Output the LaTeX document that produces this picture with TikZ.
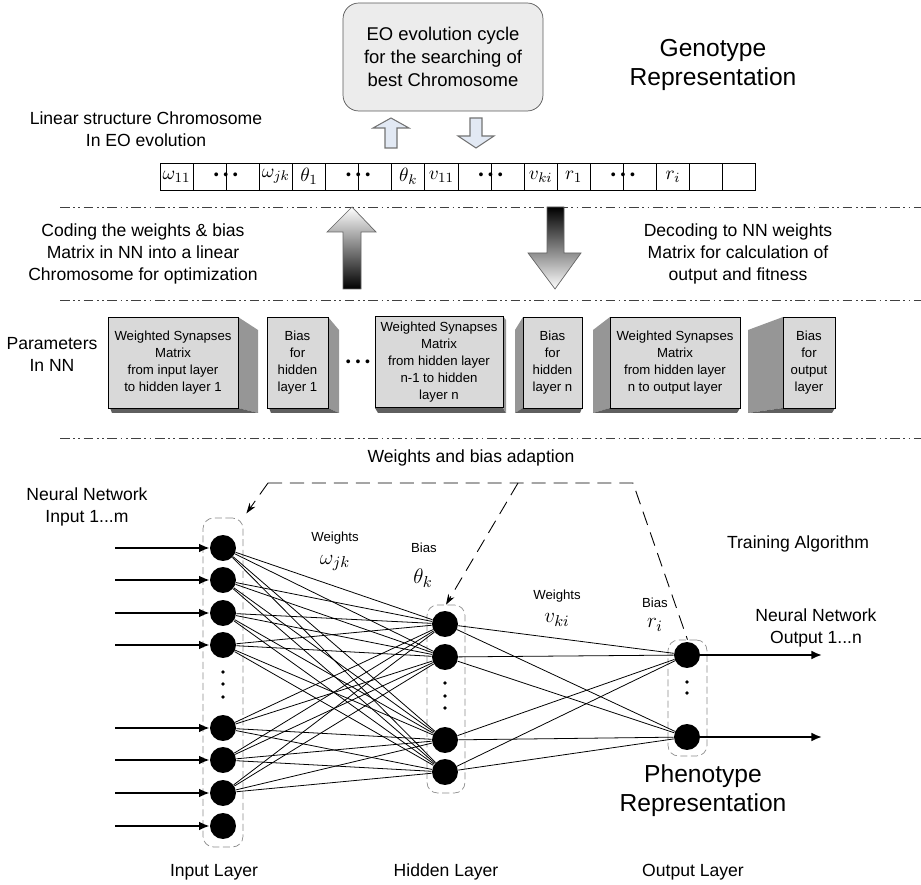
\documentclass[tikz,border=0pt]{standalone}
\usepackage{fontspec}
\setmainfont{Liberation Sans}
\usetikzlibrary{arrows.meta,positioning,calc}
\definecolor{frontgray}{RGB}{217,217,217}
\definecolor{sidegray}{RGB}{150,150,150}
\definecolor{basegray}{RGB}{95,95,95}
\definecolor{eofill}{RGB}{236,236,236}
\definecolor{hollowfill}{RGB}{226,233,244}

\begin{document}
\begin{tikzpicture}[
    x=0.02cm, y=-0.02cm,
    lbl/.style={font=\fontsize{10}{12.5}\selectfont, align=center, inner sep=1pt},
    biglbl/.style={font=\fontsize{14}{16.5}\selectfont, align=center, inner sep=1pt},
    smalllbl/.style={font=\fontsize{7.5}{9}\selectfont, inner sep=1pt},
    mathlbl/.style={font=\fontsize{13}{15}\selectfont, inner sep=1pt},
    eobox/.style={rectangle, draw=black!65, fill=eofill, rounded corners=9pt, align=center,
                  minimum width=4cm, minimum height=2.16cm, font=\fontsize{10.5}{13}\selectfont},
    cell/.style={draw, minimum width=0.662cm, minimum height=0.54cm, inner sep=0pt,
                 font=\fontsize{11}{13}\selectfont},
    pblock/.style={draw, fill=frontgray, align=center, minimum height=1.82cm, inner sep=1pt,
                   font=\fontsize{7.5}{9.6}\selectfont},
    separator/.style={black!75, line width=0.5pt,
                      dash pattern=on 5.5pt off 2pt on 1pt off 2pt on 1pt off 2pt},
    hollow/.style={draw=black!55, fill=hollowfill, line width=0.6pt},
    neuron/.style={circle, fill=black, minimum size=0.52cm, inner sep=0pt},
    layerbox/.style={draw=black!45, dashed, dash pattern=on 4pt off 2pt, rounded corners=6pt},
    link/.style={line width=0.45pt},
    inarrow/.style={-{Latex[length=6pt,width=5pt]}, line width=1.1pt},
    adapt/.style={line width=0.5pt, dash pattern=on 8pt off 4.5pt},
    arrow/.style={-{Stealth[length=6pt,width=4pt]}}
]
\useasboundingbox (0,0) rectangle (921,885);

\node[eobox] (eo) at (443,57) {EO evolution cycle\\for the searching of\\best Chromosome};
\node[biglbl] (geno) at (713,65) {Genotype\\Representation};
\node[lbl] (linlbl) at (146,129) {Linear structure Chromosome\\In EO evolution};

\foreach \c [count=\n] in {$\omega_{11}$,,,$\omega_{jk}$,$\theta_1$,,,$\theta_k$,$v_{11}$,,,$v_{ki}$,$r_1$,,,$r_i$,,}
  \node[cell] (c\n) at ({160+33.1*(\n-0.5)},176.5) {\c};
\foreach \n in {3,7,11,15}
  \node[font=\fontsize{8}{8}\selectfont] at (c\n.west) {\textbullet\,\,\textbullet\,\,\textbullet};

\path[hollow] (385,148) -- (385,128) -- (373,128) -- (391,118) -- (409,128) -- (397,128) -- (397,148) -- cycle;
\path[hollow] (470,118) -- (470,136) -- (458,136) -- (476,148) -- (494,136) -- (482,136) -- (482,118) -- cycle;

\draw[separator] (60,207) -- (921,207);
\draw[separator] (60,300) -- (921,300);
\draw[separator] (60,438) -- (921,438);

\shade[top color=white, bottom color=black, draw=black!60]
  (343,289) -- (343,232) -- (327,232) -- (352,207) -- (376,232) -- (361,232) -- (361,289) -- cycle;
\shade[top color=black, bottom color=white, draw=black!60]
  (547,207) -- (547,253) -- (528,253) -- (555,289) -- (581,253) -- (564,253) -- (564,207) -- cycle;
\node[lbl] (coding) at (143,254) {Coding the weights \& bias\\Matrix in NN into a linear\\Chromosome for optimization};
\node[lbl] (decoding) at (738,254) {Decoding to NN weights\\Matrix for calculation of\\output and fitness};

\node[lbl] (params) at (52,354) {Parameters\\In NN};
\fill[sidegray] (238,317) -- (258,330) -- (258,413) -- (238,408) -- cycle;
\fill[basegray] (110,408) -- (238,408) -- (258,413) -- (112,413) -- cycle;
\node[pblock, minimum width=2.6cm] (wsm1) at (173,362.5) {Weighted Synapses\\Matrix\\from input layer\\to hidden layer 1};
\fill[sidegray] (328,317) -- (339,330) -- (339,413) -- (328,408) -- cycle;
\fill[basegray] (269,408) -- (328,408) -- (339,413) -- (271,413) -- cycle;
\node[pblock, minimum width=1.22cm] (bias1) at (297.5,362.5) {Bias\\for\\hidden\\layer 1};
\node[font=\fontsize{8}{8}\selectfont] (pdots) at (358,363) {\textbullet\,\,\textbullet\,\,\textbullet};
\fill[basegray] (375,408) -- (503,408) -- (506,413) -- (378,413) -- cycle;
\fill[sidegray] (503,316) -- (506,320) -- (506,413) -- (503,408) -- cycle;
\node[pblock, minimum width=2.56cm] (wsmn) at (439,362) {Weighted Synapses\\Matrix\\from hidden layer\\n-1 to hidden\\layer n};
\fill[sidegray] (515,330) -- (523,317) -- (523,408) -- (515,413) -- cycle;
\fill[basegray] (515,413) -- (523,408) -- (582,408) -- (580,413) -- cycle;
\node[pblock, minimum width=1.18cm] (biasn) at (552.5,362.5) {Bias\\for\\hidden\\layer n};
\fill[sidegray] (593,330) -- (610,317) -- (610,408) -- (593,413) -- cycle;
\fill[basegray] (593,413) -- (610,408) -- (740,408) -- (737,413) -- cycle;
\node[pblock, minimum width=2.6cm] (wsmo) at (675,362.5) {Weighted Synapses\\Matrix\\from hidden layer\\n to output layer};
\fill[sidegray] (748,330) -- (783,317) -- (783,408) -- (748,413) -- cycle;
\fill[basegray] (748,413) -- (783,408) -- (835,408) -- (832,413) -- cycle;
\node[pblock, minimum width=1.04cm] (biaso) at (809,362.5) {Bias\\for\\output\\layer};

\node[lbl] (adaptlbl) at (471,458) {Weights and bias adaption};
\node[lbl] (inlbl) at (87,507) {Neural Network\\Input 1...m};
\node[lbl] (trainlbl) at (798,544) {Training Algorithm};
\node[lbl] (outlbl) at (816,628) {Neural Network\\Output 1...n};
\node[smalllbl] (w1lbl) at (335,538) {Weights};
\node[mathlbl] (w1sym) at (335,563) {$\omega_{jk}$};
\node[smalllbl] (b1lbl) at (424,548) {Bias};
\node[mathlbl] (b1sym) at (423,578) {$\theta_k$};
\node[smalllbl] (w2lbl) at (557,596) {Weights};
\node[mathlbl] (w2sym) at (557,620) {$v_{ki}$};
\node[smalllbl] (b2lbl) at (655,603) {Bias};
\node[mathlbl] (b2sym) at (655,625) {$r_i$};
\node[biglbl] (pheno) at (703,791) {Phenotype\\Representation};
\node[lbl] (inlayer) at (214,872) {Input Layer};
\node[lbl] (hidlayer) at (446,872) {Hidden Layer};
\node[lbl] (outlayer) at (693,872) {Output Layer};

\node[layerbox, minimum width=0.8cm, minimum height=6.58cm] (inbox) at (223,682.5) {};
\node[layerbox, minimum width=0.76cm, minimum height=3.76cm] (hidbox) at (446,699) {};
\node[layerbox, minimum width=0.78cm, minimum height=2.32cm] (outbox) at (687.5,698) {};

\foreach \y [count=\i] in {548,580,613,645,728,760,793,826}
  \node[neuron] (i\i) at (223,\y) {};
\foreach \y [count=\i] in {624,657,740,772}
  \node[neuron] (h\i) at (445,\y) {};
\node[neuron] (o1) at (687,655) {};
\node[neuron] (o2) at (687,737) {};
\foreach \y in {672,684,697} \fill (223,\y) circle (1.1pt);
\foreach \y in {683,696,708} \fill (445,\y) circle (1.1pt);
\foreach \y in {682,693} \fill (687,\y) circle (1.1pt);

\foreach \i in {1,...,7}
  \foreach \j in {1,...,4}
    \draw[link] (i\i) -- (h\j);
\foreach \j in {1,...,4}
  \foreach \k in {1,2}
    \draw[link] (h\j) -- (o\k);
\foreach \i in {1,...,8}
  \draw[inarrow] (i\i) ++(-108,0) -- (i\i);
\draw[inarrow] (o1) -- ++(135,0);
\draw[inarrow] (o2) -- ++(135,0);

\coordinate (adl) at (268,483);
\coordinate (adm) at (518,483);
\coordinate (adr) at (633,483);
\draw[adapt, arrow, shorten >=3pt] (adl) -- (inbox.north east);
\draw[adapt] (adl) -- (adr) -- (outbox.north);
\draw[adapt, arrow] (adm) -- (hidbox.north);
\end{tikzpicture}
\end{document}
